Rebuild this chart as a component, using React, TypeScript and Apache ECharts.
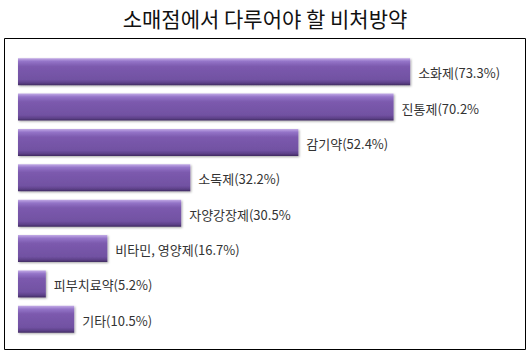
import React, { useEffect, useRef } from "react";
import * as echarts from "echarts";

const categories = ["소화제", "진통제", "감기약", "소독제", "자양강장제", "비타민, 영양제", "피부치료약", "기타"];
const values = [73.3, 70.2, 52.4, 32.2, 30.5, 16.7, 5.2, 10.5];
const labels = ["소화제(73.3%)", "진통제(70.2%", "감기약(52.4%)", "소독제(32.2%)", "자양강장제(30.5%", "비타민, 영양제(16.7%)", "피부치료약(5.2%)", "기타(10.5%)"];
const title = "소매점에서 다루어야 할 비처방약";

export default function App() {
  const ref = useRef<HTMLDivElement>(null);
  useEffect(() => {
    if (!ref.current) return;
    const chart = echarts.init(ref.current, undefined, { renderer: "svg" });
    const barColor = new echarts.graphic.LinearGradient(0, 0, 0, 1, [
      { offset: 0, color: "#c2aae6" },
      { offset: 0.12, color: "#9474c8" },
      { offset: 0.3, color: "#7c5aae" },
      { offset: 0.8, color: "#7151a2" },
      { offset: 0.92, color: "#5c4087" },
      { offset: 1, color: "#3f2a60" },
    ]);
    chart.setOption({
      animation: false,
      title: {
        text: title,
        left: "center",
        top: 2,
        textStyle: {
          fontFamily: "Noto Sans CJK KR",
          fontSize: 21,
          fontWeight: "normal",
          color: "#111",
        },
      },
      graphic: [
        {
          type: "rect",
          shape: { x: 4.5, y: 38.5, width: 521, height: 311 },
          style: { fill: "none", stroke: "#000", lineWidth: 1 },
          z: 0,
        },
      ],
      grid: { left: 18, width: 428, top: 54, height: 283, containLabel: false },
      xAxis: { type: "value", min: 0, max: 80, show: false },
      yAxis: {
        type: "category",
        data: categories,
        inverse: true,
        show: false,
      },
      series: [
        {
          type: "bar",
          data: values,
          barWidth: 27,
          itemStyle: {
            color: barColor,
            shadowColor: "rgba(0,0,0,0.35)",
            shadowBlur: 2,
            shadowOffsetX: 1,
            shadowOffsetY: 1,
          },
          label: {
            show: true,
            position: "right",
            distance: 8,
            offset: [0, 1],
            formatter: (p: any) => labels[p.dataIndex],
            fontFamily: "Noto Sans CJK KR",
            fontSize: 13,
            color: "#333",
          },
        },
      ],
    });
    return () => chart.dispose();
  }, []);
  return <div ref={ref} style={{ width: 530, height: 356, position: "absolute", left: 0, top: 0 }} />;
}
